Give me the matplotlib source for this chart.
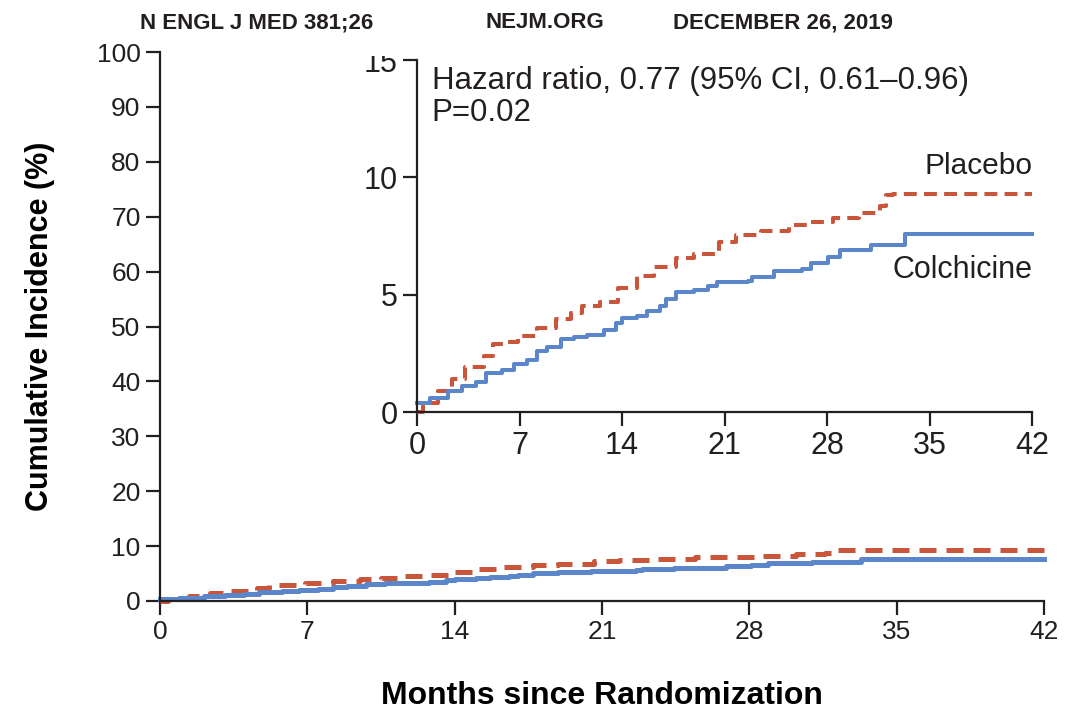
"""
Cumulative incidence plot: colchicine vs placebo, with zoomed inset.
"""

import matplotlib.pyplot as plt
from matplotlib.patches import Rectangle

# Placebo curve (months, cumulative incidence %)
placebo_months = [0, 0.4, 1.4, 2.4, 3.3, 4.6, 5.2, 6.1, 6.9, 8.2, 9.5, 10.5, 11.3, 12.5,
                  13.7, 15.0, 16.2, 17.7, 18.9, 20.6, 21.8, 23.5, 25.4, 26.6, 28.4,
                  30.2, 31.6, 32.0, 32.5, 42]
placebo_inc = [0, 0.4, 0.9, 1.4, 1.9, 2.4, 2.9, 3.0, 3.25, 3.6, 3.95, 4.2, 4.5, 4.7,
               5.3, 5.8, 6.2, 6.55, 6.75, 7.25, 7.55, 7.7, 7.95, 8.1, 8.25,
               8.5, 8.8, 9.25, 9.3, 9.3]

# Colchicine curve
colch_months = [0, 0.9, 2.1, 3.1, 4.0, 4.7, 5.8, 6.6, 7.5, 8.2, 8.9, 9.8, 10.7, 11.6,
                12.8, 13.6, 14.0, 15.0, 15.7, 16.6, 17.0, 17.7, 18.9, 19.9, 20.5,
                22.6, 22.9, 24.4, 26.3, 26.9, 28.1, 28.9, 31.0, 33.3, 42]
colch_inc = [0.4, 0.6, 0.9, 1.1, 1.3, 1.65, 1.8, 2.05, 2.2, 2.6, 2.75, 3.1, 3.2, 3.3,
             3.5, 3.8, 4.0, 4.1, 4.3, 4.5, 4.8, 5.1, 5.2, 5.35, 5.55,
             5.6, 5.75, 6.0, 6.1, 6.35, 6.6, 6.9, 7.1, 7.6, 7.6]

x_ticks = [0, 7, 14, 21, 28, 35, 42]
main_y_ticks = list(range(0, 101, 10))
inset_y_ticks = [0, 5, 10, 15]

hazard_text = 'Hazard ratio, 0.77 (95% CI, 0.61\u20130.96)\nP=0.02'
header_parts = [('N ENGL J MED 381;26', 0.129), ('NEJM.ORG', 0.447), ('DECEMBER 26, 2019', 0.620)]

RED = '#C9553A'
BLUE = '#5B86C9'
INK = '#231F20'

plt.rcParams['font.family'] = ['Liberation Sans', 'DejaVu Sans']
plt.rcParams['text.color'] = INK
plt.rcParams['axes.edgecolor'] = INK
plt.rcParams['xtick.color'] = INK
plt.rcParams['ytick.color'] = INK


def style_axes(ax, fs):
    for side in ('top', 'right'):
        ax.spines[side].set_visible(False)
    for side in ('left', 'bottom'):
        ax.spines[side].set_linewidth(1.6)
    ax.tick_params(direction='out', length=10, width=1.6, labelsize=fs, pad=4)
    ax.set_xlim(0, 42)
    ax.set_xticks(x_ticks)


fig = plt.figure(figsize=(10.86, 7.12), dpi=100)

# Main axes
ax = fig.add_axes([0.1473, 0.1559, 0.814, 0.771])
ax.step(placebo_months, placebo_inc, where='post', color=RED, lw=3.6,
        dashes=(3.4, 2.0), clip_on=False)
ax.step(colch_months, colch_inc, where='post', color=BLUE, lw=3.6, clip_on=False)
ax.set_ylim(0, 100)
ax.set_yticks(main_y_ticks)
style_axes(ax, 19)
ax.set_ylabel('Cumulative Incidence (%)', fontsize=22, fontweight='bold')
ax.set_xlabel('Months since Randomization', fontsize=23, fontweight='bold')
ax.yaxis.set_label_coords(-0.119, 0.5)
ax.xaxis.set_label_coords(0.5, -0.146)

# Inset
axin = fig.add_axes([0.384, 0.4213, 0.5663, 0.4944])
axin.step(placebo_months, placebo_inc, where='post', color=RED, lw=2.9,
          dashes=(3.2, 1.8), clip_on=False)
axin.step(colch_months, colch_inc, where='post', color=BLUE, lw=2.9, clip_on=False)
axin.set_ylim(0, 15)
axin.set_yticks(inset_y_ticks)
style_axes(axin, 22)
axin.patch.set_alpha(0)
axin.text(1.0, 14.75, hazard_text, fontsize=22.5, va='top', ha='left', linespacing=1.1)
axin.text(42, 10.5, 'Placebo', fontsize=21.5, ha='right', va='center')
axin.text(42, 6.05, 'Colchicine', fontsize=22, ha='right', va='center')

# Journal page header overlapping the top of the chart
fig.patches.append(Rectangle((0, 1 - 44 / 712), 1, 44 / 712, transform=fig.transFigure,
                             facecolor='white', edgecolor='none', zorder=5))
fig.patches.append(Rectangle((0.33, 1 - 56 / 712), 0.05, 56 / 712, transform=fig.transFigure,
                             facecolor='white', edgecolor='none', zorder=5))
for label, xpos in header_parts:
    fig.text(xpos, 0.968, label, fontsize=16, fontweight='bold', ha='left',
             va='center', zorder=6)

fig.savefig('out.png', dpi=100)
